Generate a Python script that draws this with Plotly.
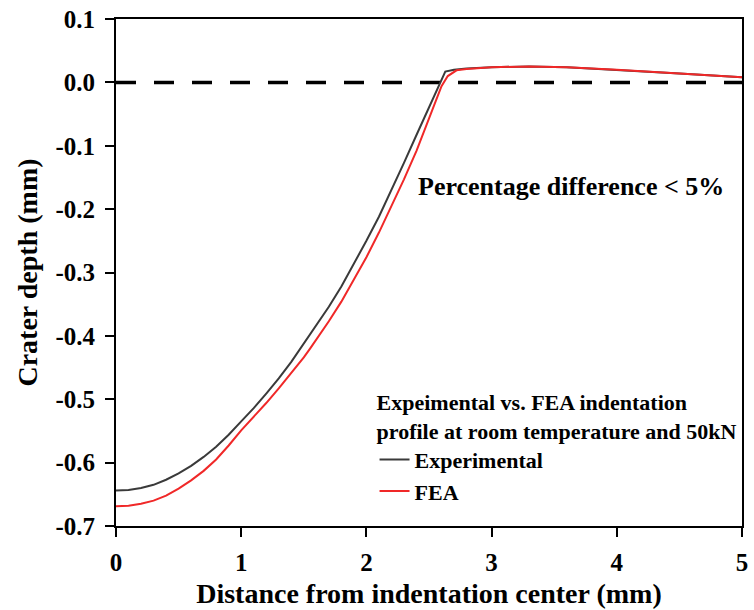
import plotly.graph_objects as go

# Data
exp_x = [0.0, 0.1, 0.2, 0.3, 0.4, 0.5, 0.6, 0.7, 0.8, 0.9, 1.0, 1.1, 1.2, 1.3, 1.4, 1.5,
         1.6, 1.7, 1.8, 1.9, 2.0, 2.1, 2.2, 2.3, 2.4, 2.5, 2.6, 2.63, 2.7, 2.8, 3.0, 3.3,
         3.6, 4.0, 4.5, 5.0]
exp_y = [-0.644, -0.643, -0.640, -0.635, -0.627, -0.617, -0.605, -0.591, -0.575, -0.556,
         -0.535, -0.514, -0.491, -0.467, -0.441, -0.412, -0.384, -0.354, -0.322, -0.287,
         -0.250, -0.212, -0.170, -0.127, -0.083, -0.040, 0.005, 0.017, 0.020, 0.022,
         0.024, 0.025, 0.024, 0.020, 0.014, 0.008]

fea_x = [0.0, 0.1, 0.2, 0.3, 0.4, 0.5, 0.6, 0.7, 0.8, 0.9, 1.0, 1.1, 1.2, 1.3, 1.4, 1.5,
         1.55, 1.6, 1.7, 1.8, 1.9, 2.0, 2.1, 2.2, 2.3, 2.4, 2.5, 2.6, 2.65, 2.72, 2.8, 3.0,
         3.3, 3.6, 4.0, 4.5, 5.0]
fea_y = [-0.669, -0.668, -0.665, -0.660, -0.652, -0.641, -0.628, -0.613, -0.595, -0.573,
         -0.549, -0.528, -0.506, -0.483, -0.459, -0.434, -0.420, -0.406, -0.377, -0.346,
         -0.312, -0.276, -0.237, -0.196, -0.153, -0.108, -0.058, -0.006, 0.010, 0.019,
         0.021, 0.024, 0.025, 0.024, 0.020, 0.014, 0.008]

x_ticks = [0, 1, 2, 3, 4, 5]
x_ticktext = ["0", "1", "2", "3", "4", "5"]
y_ticks = [0.1, 0.0, -0.1, -0.2, -0.3, -0.4, -0.5, -0.6, -0.7]
y_ticktext = ["0.1", "0.0", "-0.1", "-0.2", "-0.3", "-0.4", "-0.5", "-0.6", "-0.7"]

FONT = "Liberation Serif"

fig = go.Figure()
fig.add_trace(go.Scatter(x=exp_x, y=exp_y, mode="lines", name="Experimental",
                         line=dict(color="#3a3a3a", width=2)))
fig.add_trace(go.Scatter(x=fea_x, y=fea_y, mode="lines", name="FEA",
                         line=dict(color="#f02828", width=2)))

# zero reference line
fig.add_shape(type="line", xref="x", yref="y", x0=0, x1=5, y0=0, y1=0,
              line=dict(color="black", width=3.5, dash="20px,18px"), layer="below")

fig.add_annotation(xref="paper", yref="paper", x=0.48, y=0.67, xanchor="left", yanchor="middle",
                   text="Percentage difference < 5%", showarrow=False,
                   font=dict(family=FONT, size=26, color="black", weight="bold"))

axis_common = dict(showline=True, linecolor="black", linewidth=2, mirror=True,
                   ticks="outside", ticklen=9, tickwidth=2, tickcolor="black",
                   showgrid=False, zeroline=False,
                   tickfont=dict(family=FONT, size=25, color="black", weight="bold"))

fig.update_xaxes(range=[0, 5], tickvals=x_ticks, ticktext=x_ticktext,
                 title=dict(text="Distance from indentation center (mm)", standoff=8,
                            font=dict(family=FONT, size=28, color="black", weight="bold")),
                 ticklabelstandoff=4, **axis_common)
fig.update_yaxes(range=[-0.7, 0.1], tickvals=y_ticks, ticktext=y_ticktext,
                 title=dict(text="Crater depth (mm)", standoff=10,
                            font=dict(family=FONT, size=28, color="black", weight="bold")),
                 ticklabelstandoff=5, **axis_common)

fig.update_layout(
    width=754, height=610,
    margin=dict(l=116, r=6, t=19, b=81),
    paper_bgcolor="white", plot_bgcolor="white",
    showlegend=True,
    legend=dict(x=0.413, y=0.285, xanchor="left", yanchor="top",
                bgcolor="rgba(0,0,0,0)",
                title=dict(text="Expeimental vs. FEA indentation<br>profile at room temperature and 50kN",
                           side="top",
                           font=dict(family=FONT, size=22, color="black", weight="bold")),
                font=dict(family=FONT, size=22, color="black", weight="bold"),
                tracegroupgap=0, itemwidth=30),
)

fig.write_html("out.html")
